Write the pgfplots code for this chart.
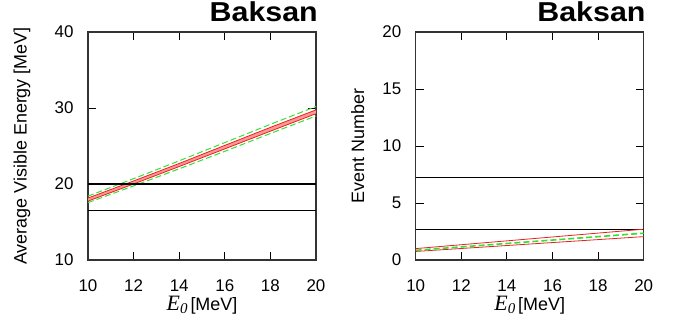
\documentclass[border=0pt]{standalone}
\usepackage{fontspec}
\setmainfont{Liberation Sans}
\newfontfamily\seriffont{Liberation Serif}
\usepackage{pgfplots}
\pgfplotsset{compat=1.18}
\definecolor{gred}{RGB}{235,30,30}
\definecolor{ggreen}{RGB}{50,225,50}
\pgfplotsset{mystyle/.style={
  scale only axis, width=228bp, height=228bp,
  xmin=10, xmax=20, xtick={10,12,...,20},
  tick align=inside, major tick length=8bp,
  axis line style={line width=1.3pt, black!80},
  tick style={line width=1pt, black},
  ticklabel style={font=\fontsize{17}{17}\selectfont},
  /pgf/number format/assume math mode=true,
  xticklabel style={yshift=-16bp},
  yticklabel style={xshift=-11bp},
  label style={font=\fontsize{18}{18}\selectfont},
  xlabel={{\seriffont\itshape\fontsize{22}{22}\selectfont E\raisebox{-3.5bp}{\fontsize{15}{15}\selectfont 0}}\,[MeV]},
  xlabel style={at={(axis description cs:0.5,0)}, anchor=base, yshift=-50bp},
  title={\scalebox{1}[0.9]{Baksan}},
  title style={at={(axis description cs:1,1)}, anchor=south east, inner sep=0pt, yshift=4.5bp, xshift=2bp, font=\bfseries\fontsize{30.5}{30.5}\selectfont},
}}
\begin{document}
\begin{tikzpicture}
\useasboundingbox (0,0) rectangle (679bp,322bp);
\begin{axis}[mystyle, at={(88bp,62bp)}, anchor=south west,
  ymin=10, ymax=40, ytick={10,20,30,40},
  ylabel={Average Visible Energy [MeV]},
  ylabel style={at={(axis description cs:0,0.5)}, anchor=center, yshift=66bp}]
\addplot[draw=none, fill=red!40] coordinates {(10,18.15) (12,20.4) (14,22.7) (16,25.08) (18,27.45) (20,29.75) (20,29.25) (18,26.95) (16,24.62) (14,22.3) (12,20.0) (10,17.75)} -- cycle;
\addplot[gred, line width=0.8pt] coordinates {(10,18.15) (12,20.4) (14,22.7) (16,25.08) (18,27.45) (20,29.75)};
\addplot[gred, line width=0.8pt] coordinates {(10,17.75) (12,20.0) (14,22.3) (16,24.62) (18,26.95) (20,29.25)};
\addplot[ggreen, line width=1pt, dash pattern=on 6bp off 3bp] coordinates {(10,18.4) (12,20.7) (14,23.05) (16,25.45) (18,27.85) (20,30.2)};
\addplot[ggreen, line width=1pt, dash pattern=on 6bp off 3bp] coordinates {(10,17.55) (12,19.75) (14,22.0) (16,24.3) (18,26.65) (20,28.95)};
\addplot[black, line width=1.1pt] coordinates {(10,20) (20,20)};
\addplot[black, line width=1.1pt] coordinates {(10,16.5) (20,16.5)};
\end{axis}
\begin{axis}[mystyle, at={(415.7bp,62bp)}, anchor=south west,
  ymin=0, ymax=20, ytick={0,5,10,15,20},
  ylabel={Event Number},
  ylabel style={at={(axis description cs:0,0.5)}, anchor=center, yshift=58bp}]
\addplot[black, line width=1.1pt] coordinates {(10,7.2) (20,7.2)};
\addplot[black, line width=1.1pt] coordinates {(10,2.7) (20,2.7)};
\addplot[gred, line width=0.8pt] coordinates {(10,1.0) (12,1.34) (14,1.68) (16,2.02) (18,2.36) (20,2.7)};
\addplot[gred, line width=0.8pt] coordinates {(10,0.75) (12,1.01) (14,1.27) (16,1.53) (18,1.79) (20,2.05)};
\addplot[ggreen, line width=1.6pt, dash pattern=on 6bp off 3bp] coordinates {(10,0.85) (12,1.15) (14,1.45) (16,1.75) (18,2.05) (20,2.35)};
\end{axis}
\end{tikzpicture}
\end{document}
